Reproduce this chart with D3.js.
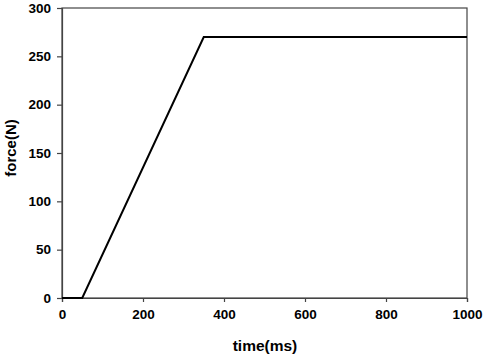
<!DOCTYPE html>
<html>
<head>
<meta charset="utf-8">
<script src="https://cdn.jsdelivr.net/npm/d3@7"></script>
<style>
  html, body { margin: 0; padding: 0; background: #fff; }
  svg text { font-family: "Liberation Sans", Arial, sans-serif; font-weight: bold; fill: #000; }
</style>
</head>
<body>
<div id="chart"></div>
<script>
// force profile: time (ms) vs force (N)
const timeMs = [0, 50, 350, 1000];
const forceN = [0, 0, 270, 270];
const xTicks = [0, 200, 400, 600, 800, 1000];
const yTicks = [0, 50, 100, 150, 200, 250, 300];

const W = 484, H = 358;
const margin = { top: 8, right: 17, bottom: 60, left: 62 };
const innerW = W - margin.left - margin.right;
const innerH = H - margin.top - margin.bottom;

const svg = d3.select('#chart').append('svg').attr('width', W).attr('height', H);
const g = svg.append('g').attr('transform', `translate(${margin.left},${margin.top})`);

const x = d3.scaleLinear().domain([0, 1000]).range([0, innerW]);
const y = d3.scaleLinear().domain([0, 300]).range([innerH, 0]);

// frame
g.append('rect').attr('x', 0).attr('y', 0).attr('width', innerW).attr('height', innerH)
  .attr('fill', 'none').attr('stroke', '#444').attr('stroke-width', 1.2);

const xAxis = g.append('g').attr('transform', `translate(0,${innerH})`)
  .call(d3.axisBottom(x).tickValues(xTicks).tickSize(4).tickPadding(7).tickFormat(d3.format('d')));
const yAxis = g.append('g')
  .call(d3.axisLeft(y).tickValues(yTicks).tickSize(5).tickPadding(6).tickFormat(d3.format('d')));
[xAxis, yAxis].forEach(a => {
  a.selectAll('.domain').attr('stroke', '#444').attr('stroke-width', 1.2);
  a.selectAll('.tick line').attr('stroke', '#444').attr('stroke-width', 1.2);
  a.selectAll('text').style('font-size', '13.5px').style('font-family', '"Liberation Sans", Arial, sans-serif')
    .style('font-weight', 'bold').attr('fill', '#000');
});

const pts = timeMs.map((t, i) => ({ t, f: forceN[i] }));
const line = d3.line().x(d => x(d.t)).y(d => y(d.f));
g.append('path').datum(pts).attr('fill', 'none').attr('stroke', '#000')
  .attr('stroke-width', 2).attr('stroke-linejoin', 'miter').attr('d', line);

// axis titles
svg.append('text').attr('x', 265).attr('y', 351)
  .attr('text-anchor', 'middle').style('font-size', '15.5px').text('time(ms)');
svg.append('text').attr('transform', `translate(16,148) rotate(-90)`)
  .attr('text-anchor', 'middle').style('font-size', '15px').text('force(N)');
</script>
</body>
</html>
